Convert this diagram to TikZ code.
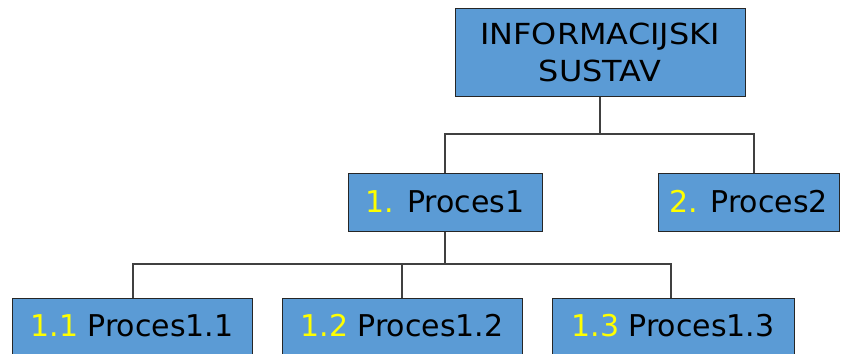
\documentclass[tikz,border=0pt]{standalone}
\usepackage{fontspec}
\setmainfont{DejaVu Sans}
\newfontfamily\widefont[FakeStretch=1.1]{DejaVu Sans}
\begin{document}
\begin{tikzpicture}[x=1pt,y=1pt,
  box/.style={draw=black!85, line width=1pt, fill=boxblue, inner sep=0pt, align=center,
    font=\fontsize{30}{37.5}\selectfont},
  conn/.style={draw=black!75, line width=1.1pt}]
\definecolor{boxblue}{HTML}{5B9BD5}
\definecolor{yl}{HTML}{FFFF00}
\useasboundingbox (0,0) rectangle (842,-353);
\node[box, minimum width=290pt, minimum height=87pt, font=\widefont\fontsize{29}{37.5}\selectfont] (top) at (600,-52.5) {INFORMACIJSKI\\SUSTAV};
\node[box, minimum width=194pt, minimum height=58pt] (p1) at (445,-202) {{\color{yl}1.} Proces1};
\node[box, minimum width=181pt, minimum height=58pt] (p2) at (748.5,-202) {{\color{yl}2.} Proces2};
\node[box, minimum width=240pt, minimum height=56pt] (p11) at (132,-326) {{\color{yl}1.1} Proces1.1};
\node[box, minimum width=240pt, minimum height=56pt] (p12) at (402,-326) {{\color{yl}1.2} Proces1.2};
\node[box, minimum width=242pt, minimum height=56pt] (p13) at (673,-326) {{\color{yl}1.3} Proces1.3};
\coordinate (j1) at (600,-134);
\coordinate (p1in) at (445,-173);
\coordinate (p2in) at (754,-173);
\coordinate (j2) at (445,-264);
\coordinate (p11in) at (133,-298);
\coordinate (p12in) at (402,-298);
\coordinate (p13in) at (671,-298);
\draw[conn] (top.south) -- (j1);
\draw[conn] (p1in) |- (j1) -| (p2in);
\draw[conn] (p1.south) -- (j2);
\draw[conn] (p11in) |- (j2) -| (p13in);
\draw[conn] (p12in) -- (p12in |- j2);
\end{tikzpicture}
\end{document}
